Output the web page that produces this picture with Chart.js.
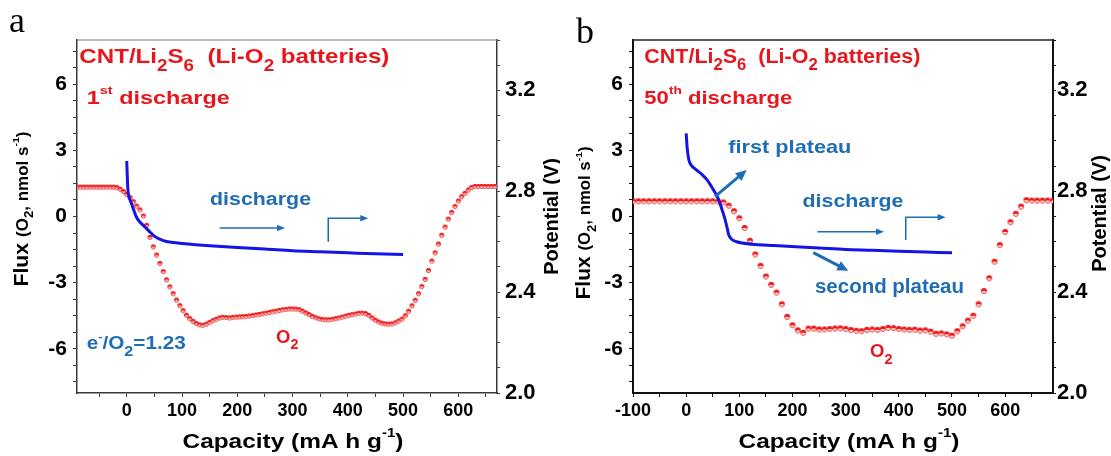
<!DOCTYPE html>
<html><head><meta charset="utf-8">
<script src="https://cdn.jsdelivr.net/npm/chart.js@4.4.1/dist/chart.umd.min.js"></script>
<style>
html,body{margin:0;padding:0;background:#fff;width:1111px;height:456px;overflow:hidden}
#wa{position:absolute;left:0;top:0;width:560px;height:456px}
#wb{position:absolute;left:560px;top:0;width:551px;height:456px}
</style></head><body>
<div id="wa"><canvas id="ca" width="560" height="456"></canvas></div>
<div id="wb"><canvas id="cb" width="551" height="456"></canvas></div>
<script>
// ---------- data: panel a (1st discharge) ----------
const capA = [-90,-84,-78,-72,-66,-60,-54,-48,-42,-36,-30,-24,-18,-12,-6,0,6,12,18,24,30,36,42,48,54,60,66,72,78,84,90,96,102,108,114,120,126,132,138,144,150,156,162,168,174,180,186,192,198,204,210,216,222,228,234,240,246,252,258,264,270,276,282,288,294,300,306,312,318,324,330,336,342,348,354,360,366,372,378,384,390,396,402,408,414,420,426,432,438,444,450,456,462,468,474,480,486,492,498,504,510,516,522,528,534,540,546,552,558,564,570,576,582,588,594,600,606,612,618,624,630,636,642,648,654,660,666];
const fluxA = [1.33,1.33,1.33,1.33,1.33,1.33,1.33,1.33,1.33,1.33,1.33,1.33,
1.31,1.24,1.13,1.00,0.85,0.67,0.47,0.30,0.02,-0.40,
-0.95,-1.38,-1.75,-2.13,-2.50,-2.87,-3.19,-3.50,-3.79,-4.04,
-4.27,-4.48,-4.63,-4.75,-4.85,-4.91,-4.93,-4.88,-4.80,-4.72,
-4.66,-4.60,-4.57,-4.58,-4.60,-4.58,-4.56,-4.55,-4.54,-4.53,
-4.51,-4.49,-4.46,-4.44,-4.41,-4.38,-4.35,-4.32,-4.29,-4.26,
-4.23,-4.21,-4.19,-4.19,-4.20,-4.22,-4.29,-4.37,-4.45,-4.53,
-4.59,-4.64,-4.67,-4.68,-4.68,-4.66,-4.63,-4.60,-4.56,-4.52,
-4.48,-4.45,-4.42,-4.39,-4.38,-4.40,-4.48,-4.60,-4.70,-4.78,
-4.84,-4.87,-4.88,-4.87,-4.82,-4.74,-4.65,-4.50,-4.30,-4.05,
-3.80,-3.50,-3.18,-2.85,-2.45,-2.02,-1.65,-1.25,-0.85,-0.48,
-0.12,0.18,0.45,0.70,0.90,1.05,1.20,1.31,1.36,
1.36,1.36,1.36,1.36,1.36,1.36];
const capBlueA = [0,1,2,4,8,12,17,23,30,40,50,60,70,85,100,125,150,200,250,300,350,400,450,500];
const potA = [2.92,2.86,2.81,2.78,2.755,2.73,2.70,2.68,2.665,2.643,2.622,2.610,2.602,2.597,2.593,2.588,2.584,2.577,2.571,2.564,2.560,2.556,2.552,2.549];

// ---------- data: panel b (50th discharge) ----------
const capB = [-100,-90,-80,-70,-60,-50,-40,-30,-20,-10,0,10,20,30,40,50,60,70,80,90,100,110,120,130,140,150,160,170,180,190,200,210,220,230,240,250,260,270,280,290,300,310,320,330,340,350,360,370,380,390,400,410,420,430,440,450,460,470,480,490,500,510,520,530,540,550,560,570,580,590,600,610,620,630,640,650,660,670,680,690];
const fluxB = [0.69,0.69,0.69,0.69,0.69,0.69,0.69,0.69,0.69,0.69,0.69,0.69,0.69,0.69,0.69,0.69,
0.68,0.64,0.49,0.24,-0.08,-0.52,-1.10,-1.72,-2.24,-2.72,
-3.10,-3.45,-3.98,-4.55,-4.93,-5.16,-5.27,-5.08,-5.08,-5.12,
-5.12,-5.10,-5.08,-5.07,-5.10,-5.15,-5.18,-5.20,-5.14,-5.12,
-5.14,-5.10,-5.05,-5.06,-5.10,-5.12,-5.14,-5.13,-5.17,-5.16,
-5.22,-5.32,-5.30,-5.34,-5.40,-5.20,-4.98,-4.72,-4.50,-3.98,
-3.38,-2.80,-2.05,-1.30,-0.70,-0.26,0.12,0.45,0.74,
0.72,0.72,0.72,0.72,0.72];
const capBlueB = [0,2,5,10,15,22,30,40,50,60,67,73,77,80,86,95,105,130,165,215,250,300,350,400,450,500];
const potB = [3.03,2.97,2.925,2.902,2.892,2.880,2.866,2.843,2.81,2.772,2.73,2.69,2.655,2.628,2.609,2.600,2.595,2.589,2.585,2.579,2.575,2.569,2.566,2.562,2.559,2.556];

// ---------- tick labels ----------
const fluxTicks = [-6,-3,0,3,6];
const potTicks = [2.0,2.4,2.8,3.2];
const capTicksA = [0,100,200,300,400,500,600];
const capTicksB = [-100,0,100,200,300,400,500,600];

const FONT = "'Liberation Sans', Arial, Helvetica, sans-serif";
const RED = '#e8161c', BLUE_T = '#1f6db4', BLUE_L = '#1414e6', MRED = '#ee1a1a';
Chart.defaults.font.family = FONT;
Chart.defaults.color = '#000';

function layoutParts(ctx, parts, size){
  let x = 0; const items = [];
  for (const p of parts){
    const t = p[0], kind = p[1], base = p[2] || size;
    let s = base, dy = 0;
    if (kind === 'sub'){ s = base*0.78; dy = base*0.36; }
    else if (kind === 'sup'){ s = base*0.62; dy = -base*0.52; }
    const f = 'bold ' + s.toFixed(2) + 'px ' + FONT;
    ctx.font = f;
    const w = ctx.measureText(t).width;
    items.push({t, f, x, dy}); x += w;
  }
  return {items, width: x};
}
function drawRich(ctx, parts, x, y, size, color, target, align){
  const L = layoutParts(ctx, parts, size);
  const sx = target ? target / L.width : 1;
  ctx.save();
  ctx.translate(x, y); ctx.scale(sx, 1);
  const ox = align === 'center' ? -L.width/2 : 0;
  ctx.fillStyle = color; ctx.textBaseline = 'alphabetic'; ctx.textAlign = 'left';
  for (const it of L.items){ ctx.font = it.f; ctx.fillText(it.t, ox + it.x, it.dy); }
  ctx.restore();
}
function drawRotated(ctx, parts, cx, cy, size, color, target, capH){
  ctx.save(); ctx.translate(cx, cy); ctx.rotate(-Math.PI/2);
  drawRich(ctx, parts, 0, capH/2, size, color, target, 'center');
  ctx.restore();
}
function drawArrow(ctx, pts, color, lw, hl, hw){
  const n = pts.length, x1 = pts[n-2][0], y1 = pts[n-2][1], x2 = pts[n-1][0], y2 = pts[n-1][1];
  const a = Math.atan2(y2-y1, x2-x1), c = Math.cos(a), s = Math.sin(a);
  const bx = x2 - hl*c, by = y2 - hl*s;
  ctx.save(); ctx.strokeStyle = color; ctx.fillStyle = color; ctx.lineWidth = lw; ctx.lineJoin = 'miter'; ctx.lineCap = 'butt';
  ctx.beginPath(); ctx.moveTo(pts[0][0], pts[0][1]);
  for (let i = 1; i < n-1; i++) ctx.lineTo(pts[i][0], pts[i][1]);
  ctx.lineTo(bx + 1*c, by + 1*s); ctx.stroke();
  ctx.beginPath(); ctx.moveTo(x2, y2);
  ctx.lineTo(bx - hw/2*s, by + hw/2*c); ctx.lineTo(bx + hw/2*s, by - hw/2*c); ctx.closePath(); ctx.fill();
  ctx.restore();
}
function makeMarker(r, color){
  const sz = Math.ceil(2*r + 2), c = document.createElement('canvas'); c.width = sz; c.height = sz;
  const g = c.getContext('2d'), cx = sz/2, cy = sz/2;
  g.fillStyle = '#fff'; g.beginPath(); g.arc(cx, cy, r, 0, 2*Math.PI); g.fill();
  g.fillStyle = color; g.beginPath(); g.arc(cx, cy, r, Math.PI, 2*Math.PI); g.closePath(); g.fill();
  g.strokeStyle = color; g.lineWidth = 1; g.beginPath(); g.arc(cx, cy, r - 0.5, 0, 2*Math.PI); g.stroke();
  return c;
}

const xTitle = [['Capacity (mA h g'], ['-1','sup'], [')']];
const yTitle = [['Flux ',null,20], ['(O',null,16], ['2','sub',16], [', nmol s',null,16], ['-1','sup',16], [')',null,16]];
const rTitle = [['Potential (V)']];

const decoPlugin = {
  id: 'deco',
  afterDraw(chart, args, o){
    const ctx = chart.ctx, ca = chart.chartArea;
    const X = v => chart.scales.x.getPixelForValue(v), Y = v => chart.scales.y.getPixelForValue(v);
    ctx.save(); ctx.strokeStyle = o.topColor; ctx.lineWidth = o.topW;
    ctx.beginPath(); ctx.moveTo(ca.left, ca.top); ctx.lineTo(ca.right + o.axisW/2, ca.top); ctx.stroke(); ctx.restore();
    for (const a of o.arrows) drawArrow(ctx, a.pts.map(p => [X(p[0]), Y(p[1])]), BLUE_T, a.lw, a.hl, a.hw);
    for (const t of o.texts) drawRich(ctx, t.parts, X(t.x), Y(t.y), t.size, t.color, t.w);
    ctx.save(); ctx.font = '36px "Liberation Serif", "Times New Roman", serif'; ctx.fillStyle = '#000';
    ctx.fillText(o.letter, o.letterX, o.letterY); ctx.restore();
    drawRich(ctx, xTitle, (ca.left + ca.right)/2 + 6, chart.height - 8, 21, '#000', 221, 'center');
    drawRotated(ctx, yTitle, o.yTitleX, o.yTitleY, 16, '#000', o.yTitleW, 14);
    drawRotated(ctx, rTitle, o.rTitleX, o.rTitleY, 20, '#000', null, 14);
  }
};

function makeChart(id, o){
  const marker = makeMarker(o.r, MRED);
  const xt = []; for (let v = o.xTickStart; v <= 650; v += 50) xt.push(v);
  const yt = []; for (let i = -10; i <= 10; i++) yt.push(i*0.75);
  const rt = []; for (let i = 0; i <= 14; i++) rt.push(Math.round((2 + i*0.1)*10)/10);
  const grid = {drawOnChartArea: false, tickLength: 4, tickColor: o.axisColor, tickWidth: 1};
  return new Chart(document.getElementById(id), {
    type: 'scatter',
    data: {datasets: [
      {label: 'Potential', data: o.capBlue.map((x, i) => ({x, y: o.pot[i]})), yAxisID: 'yR', showLine: true,
       borderColor: BLUE_L, borderWidth: 3, pointRadius: 0, cubicInterpolationMode: 'monotone', order: 0},
      {label: 'O2', data: o.cap.map((x, i) => ({x, y: o.flux[i]})), yAxisID: 'y', showLine: false,
       pointStyle: marker, pointRadius: o.r, order: 1}
    ]},
    options: {
      responsive: false, animation: false, events: [],
      layout: {padding: {top: 40, left: 0, right: 0, bottom: 0}},
      plugins: {legend: {display: false}, tooltip: {enabled: false}, deco: o.deco},
      scales: {
        x: {type: 'linear', position: 'bottom', min: o.xmin, max: o.xmax,
            afterFit: s => { s.height = 63; },
            afterBuildTicks: s => { s.ticks = xt.map(v => ({value: v})); },
            ticks: {autoSkip: false, maxRotation: 0, padding: 3, color: '#000', font: {size: 18, weight: 'bold'},
                    callback: v => o.xLabels.includes(v) ? String(v) : ''},
            grid: grid, border: {color: o.axisColor, width: o.axisW}},
        y: {type: 'linear', position: 'left', min: -8, max: 8,
            afterFit: s => { s.width = o.leftW; },
            afterBuildTicks: s => { s.ticks = yt.map(v => ({value: v})); },
            ticks: {autoSkip: false, padding: 6, color: '#000', font: {size: 21, weight: 'bold'},
                    callback: v => fluxTicks.some(t => Math.abs(t - v) < 1e-6) ? String(Math.round(v)) : ''},
            grid: grid, border: {color: o.axisColor, width: o.axisW}},
        yR: {type: 'linear', position: 'right', min: 2.0, max: 3.4,
            afterFit: s => { s.width = o.rightW; },
            afterBuildTicks: s => { s.ticks = rt.map(v => ({value: v})); },
            ticks: {autoSkip: false, padding: o.rPad, color: '#000', font: {size: 22, weight: 'bold'},
                    callback: v => potTicks.some(t => Math.abs(t - v) < 1e-6) ? v.toFixed(1) : ''},
            grid: {drawOnChartArea: false, tickLength: 3, tickColor: o.axisColor, tickWidth: 1},
            border: {color: o.axisColor, width: o.axisW}}
      }
    },
    plugins: [decoPlugin]
  });
}

const titleParts = [['CNT/Li'], ['2','sub'], ['S'], ['6','sub'], ['  (Li-O'], ['2','sub'], [' batteries)']];

makeChart('ca', {
  cap: capA, flux: fluxA, capBlue: capBlueA, pot: potA, r: 2.5,
  xmin: -90, xmax: 670, xTickStart: -50, xLabels: capTicksA,
  leftW: 77, rightW: 63, rPad: 5, axisColor: '#3a3a3a', axisW: 1.5,
  deco: {
    topColor: '#777', topW: 1, axisW: 1.5,
    letter: 'a', letterX: 9, letterY: 32,
    yTitleX: 20.5, yTitleY: 209, yTitleW: 155,
    rTitleX: 551, rTitleY: 216.5,
    texts: [
      {parts: titleParts, x: -85.8, y: 6.944, size: 21, color: RED, w: 310},
      {parts: [['1'], ['st','sup'], [' discharge']], x: -72.4, y: 5.099, size: 19, color: RED, w: 143},
      {parts: [['discharge']], x: 150.7, y: 0.521, size: 17.5, color: BLUE_T, w: 101},
      {parts: [['e'], ['-','sup'], ['/O'], ['2','sub'], ['=1.23']], x: -72.4, y: -6.019, size: 18.5, color: BLUE_T, w: 99},
      {parts: [['O'], ['2','sub']], x: 270.1, y: -5.72, size: 18.5, color: RED}
    ],
    arrows: [
      {pts: [[168.0, -0.521], [286.4, -0.521]], lw: 1.6, hl: 8, hw: 6.5},
      {pts: [[364.7, -1.142], [364.7, -0.082], [437.1, -0.082]], lw: 1.6, hl: 8, hw: 6.5}
    ]
  }
});

makeChart('cb', {
  cap: capB, flux: fluxB, capBlue: capBlueB, pot: potB, r: 2.9,
  xmin: -100, xmax: 690, xTickStart: -100, xLabels: capTicksB,
  leftW: 73, rightW: 58, rPad: 1, axisColor: '#111', axisW: 2,
  deco: {
    topColor: '#222', topW: 1.5, axisW: 2,
    letter: 'b', letterX: 16, letterY: 43,
    yTitleX: 23, yTitleY: 223, yTitleW: 153,
    rTitleX: 539, rTitleY: 213.5,
    texts: [
      {parts: titleParts, x: -78.7, y: 6.944, size: 20, color: RED, w: 276},
      {parts: [['50'], ['th','sup'], [' discharge']], x: -78.7, y: 5.099, size: 19, color: RED, w: 148},
      {parts: [['first plateau']], x: 79.3, y: 2.892, size: 19, color: BLUE_T, w: 123},
      {parts: [['discharge']], x: 218.8, y: 0.417, size: 17.5, color: BLUE_T, w: 101},
      {parts: [['second plateau']], x: 242.3, y: -3.454, size: 19.5, color: BLUE_T, w: 149},
      {parts: [['O'], ['2','sub']], x: 345.8, y: -6.382, size: 18.5, color: RED}
    ],
    arrows: [
      {pts: [[54.2, 0.897], [113.9, 2.108]], lw: 3, hl: 11, hw: 10},
      {pts: [[246.7, -0.689], [372.1, -0.689]], lw: 1.6, hl: 8, hw: 6.5},
      {pts: [[413.0, -1.065], [413.0, -0.036], [488.2, -0.036]], lw: 1.6, hl: 8, hw: 6.5},
      {pts: [[239.1, -1.641], [305.0, -2.457]], lw: 3, hl: 11, hw: 10}
    ]
  }
});
</script>
</body></html>
